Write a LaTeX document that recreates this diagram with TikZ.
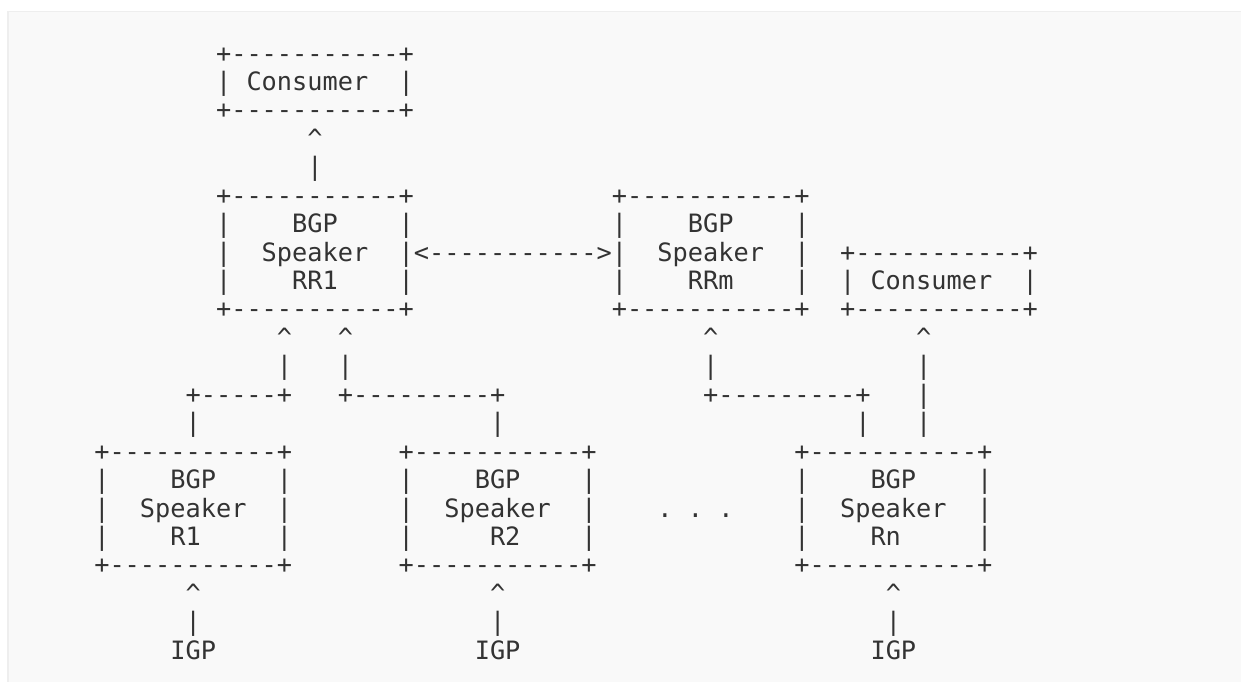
\documentclass[tikz,border=0pt]{standalone}
\usepackage{fontspec}
\setmonofont{DejaVu Sans Mono}
\usepackage{tikz}
\definecolor{pre}{HTML}{F9F9F9}
\definecolor{preline}{HTML}{EEEEEE}
\definecolor{ink}{HTML}{333333}
\newcommand{\asccaret}{\textasciicircum}
% one run of characters: name, column, row, text
\newcommand{\aline}[4]{\node[ascii] (#1) at ({94.1+#2*15.22},{62+(#3-1)*28.44}) {#4};}

\begin{document}
\begin{tikzpicture}[x=1pt,y=-1pt,
  ascii/.style={anchor=base west,inner sep=0pt,text=ink,
    font=\ttfamily\fontsize{25.28pt}{28.44pt}\selectfont}]
\useasboundingbox (0,0) rectangle (1241,681);
\draw[preline,fill=pre,line width=1.5pt] (8,11.5) rectangle (1260,700);
% top consumer
\aline{consT-1}{8}{1}{+-----------+}
\aline{consT-2}{8}{2}{|~Consumer~~|}
\aline{consT-3}{8}{3}{+-----------+}
\aline{upT}{14}{4}{\asccaret}
\aline{barT}{14}{5}{|}
% route reflectors
\aline{rr1-1}{8}{6}{+-----------+}
\aline{rrm-1}{34}{6}{+-----------+}
\aline{rr1-2}{8}{7}{|~~~~BGP~~~~|}
\aline{rrm-2}{34}{7}{|~~~~BGP~~~~|}
\aline{rr1-3}{8}{8}{|~~Speaker~~|}
\aline{peer}{21}{8}{<----------->}
\aline{rrm-3}{34}{8}{|~~Speaker~~|}
\aline{consR-1}{49}{8}{+-----------+}
\aline{rr1-4}{8}{9}{|~~~~RR1~~~~|}
\aline{rrm-4}{34}{9}{|~~~~RRm~~~~|}
\aline{consR-2}{49}{9}{|~Consumer~~|}
\aline{rr1-5}{8}{10}{+-----------+}
\aline{rrm-5}{34}{10}{+-----------+}
\aline{consR-3}{49}{10}{+-----------+}
% links up to the reflectors
\aline{upA}{12}{11}{\asccaret}
\aline{upB}{16}{11}{\asccaret}
\aline{upC}{40}{11}{\asccaret}
\aline{upD}{54}{11}{\asccaret}
\aline{barA}{12}{12}{|}
\aline{barB}{16}{12}{|}
\aline{barC}{40}{12}{|}
\aline{barD}{54}{12}{|}
\aline{lnkA}{6}{13}{+-----+}
\aline{lnkB}{16}{13}{+---------+}
\aline{lnkC}{40}{13}{+---------+}
\aline{lnkD}{54}{13}{|}
\aline{dnA}{6}{14}{|}
\aline{dnB}{26}{14}{|}
\aline{dnC}{50}{14}{|}
\aline{dnD}{54}{14}{|}
% speakers
\aline{r1-1}{0}{15}{+-----------+}
\aline{r2-1}{20}{15}{+-----------+}
\aline{rn-1}{46}{15}{+-----------+}
\aline{r1-2}{0}{16}{|~~~~BGP~~~~|}
\aline{r2-2}{20}{16}{|~~~~BGP~~~~|}
\aline{rn-2}{46}{16}{|~~~~BGP~~~~|}
\aline{r1-3}{0}{17}{|~~Speaker~~|}
\aline{r2-3}{20}{17}{|~~Speaker~~|}
\aline{dots}{37}{17}{.~.~.}
\aline{rn-3}{46}{17}{|~~Speaker~~|}
\aline{r1-4}{0}{18}{|~~~~R1~~~~~|}
\aline{r2-4}{20}{18}{|~~~~~R2~~~~|}
\aline{rn-4}{46}{18}{|~~~~Rn~~~~~|}
\aline{r1-5}{0}{19}{+-----------+}
\aline{r2-5}{20}{19}{+-----------+}
\aline{rn-5}{46}{19}{+-----------+}
% IGP feeds
\aline{igpA-up}{6}{20}{\asccaret}
\aline{igpB-up}{26}{20}{\asccaret}
\aline{igpC-up}{52}{20}{\asccaret}
\aline{igpA-bar}{6}{21}{|}
\aline{igpB-bar}{26}{21}{|}
\aline{igpC-bar}{52}{21}{|}
\aline{igpA}{5}{22}{IGP}
\aline{igpB}{25}{22}{IGP}
\aline{igpC}{51}{22}{IGP}
\end{tikzpicture}
\end{document}
